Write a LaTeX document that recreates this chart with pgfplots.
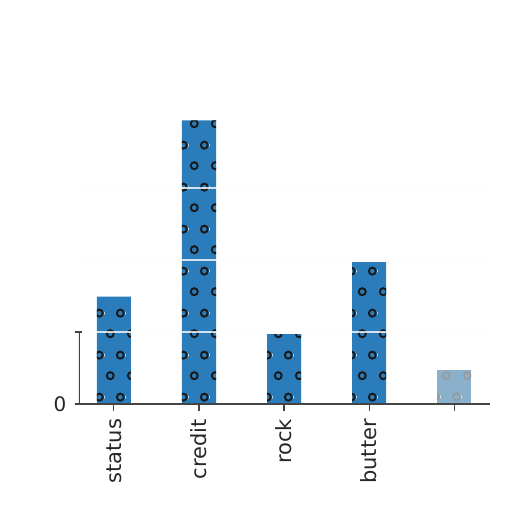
\documentclass[border=0pt]{standalone}
\usepackage{fontspec}
\setmainfont{DejaVu Sans}
\usepackage{pgfplots}
\pgfplotsset{compat=1.18}
\usetikzlibrary{patterns.meta}
\definecolor{barblue}{HTML}{2A7DBA}
\definecolor{fadeblue}{HTML}{8AB0CC}
\definecolor{spine}{HTML}{444444}
\definecolor{gridc}{HTML}{FCFCFC}
% matplotlib-like 'o' hatch
\tikzdeclarepattern{
  name=ohatch, type=colored,
  tile size={(21pt,42pt)},
  bounding box={(0pt,0pt) and (21pt,42pt)},
  code={
    \draw[line width=2pt, black!90] (5.5pt,10.5pt) circle (3.6pt);
    \draw[line width=2pt, black!90] (16pt,31.5pt) circle (3.6pt);
  }
}
\tikzdeclarepattern{
  name=ohatchgray, type=colored,
  tile size={(21pt,42pt)},
  bounding box={(0pt,0pt) and (21pt,42pt)},
  code={
    \draw[line width=1.6pt, gray!80] (5.5pt,10.5pt) circle (3.6pt);
    \draw[line width=1.6pt, gray!80] (16pt,31.5pt) circle (3.6pt);
  }
}
\begin{document}
\begin{tikzpicture}
\begin{axis}[
  scale only axis, width=411pt, height=309.6pt,
  xmin=-0.41, xmax=4.42, ymin=0, ymax=4.3,
  axis x line*=bottom, axis y line*=left,
  y axis line style={draw=none},
  x axis line style={spine, line width=1.5pt, shorten <=-4pt, -},
  axis on top,
  xtick={0,1,2,3,4},
  xticklabels={status,credit,rock,butter,{}},
  ytick={0,1}, yticklabels={0,{}},
  extra y ticks={2,3}, extra y tick labels={},
  extra y tick style={grid=major, major tick length=0pt},
  ymajorgrids,
  major grid style={gridc, line width=1.6pt, opacity=0.8},
  major tick length=7pt,
  xtick align=outside, ytick align=center,
  tick style={spine, line width=1.2pt},
  xticklabel style={rotate=90, anchor=east, inner sep=0pt, outer xsep=8pt,
    font=\fontsize{21}{24}\selectfont, text=black!85},
  yticklabel style={inner sep=0pt, xshift=-9pt,
    font=\fontsize{20}{24}\selectfont, text=black!85},
  /pgf/number format/assume math mode=true,
]
\addplot[ybar, bar width=0.4, bar shift=0pt, fill=barblue, draw=none,
  postaction={pattern=ohatch}]
  coordinates {(0,1.49) (1,3.94) (2,0.97) (3,1.97)};
\addplot[ybar, bar width=0.4, bar shift=0pt, fill=fadeblue, draw=none,
  postaction={pattern=ohatchgray}]
  coordinates {(4,0.47)};
\draw[spine, line width=1.5pt] (axis cs:-0.41,0) -- (axis cs:-0.41,1);
\end{axis}
\pgfresetboundingbox
\useasboundingbox (-79pt,-108pt) rectangle (433pt,404pt);
\end{tikzpicture}
\end{document}
